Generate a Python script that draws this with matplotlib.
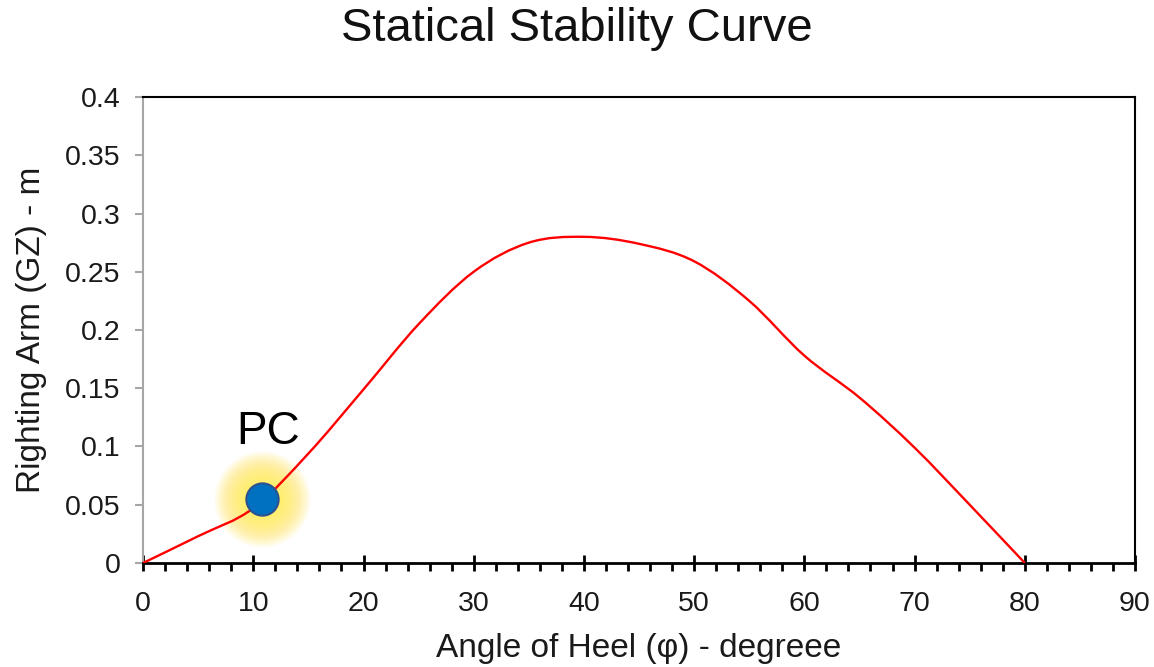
import numpy as np
import matplotlib
matplotlib.use("Agg")
import matplotlib.pyplot as plt
from matplotlib.path import Path
from matplotlib.patches import PathPatch
from matplotlib.ticker import MultipleLocator

plt.rcParams['font.family'] = ['Liberation Sans', 'DejaVu Sans']

heel = [0, 5, 10, 15, 20, 25, 30, 35, 40, 45, 50, 55, 60, 65, 70, 75, 80]
gz = [0, 0.023, 0.047, 0.094, 0.149, 0.205, 0.25, 0.275, 0.28, 0.274,
      0.259, 0.225, 0.178, 0.142, 0.099, 0.05, 0]
pc_x = 10.8
pc_y = 0.0553
pc_label = 'PC'

fig = plt.figure(figsize=(11.54, 6.67), dpi=100)
ax = fig.add_axes([0.124, 0.156, 0.8595, 0.6985])

# smoothed line (Excel style bezier through the points)
x = np.array(heel, float)
y = np.array(gz, float)
verts = [(x[0], y[0])]
codes = [Path.MOVETO]
n = len(x)
for i in range(n - 1):
    p0 = np.array([x[max(i - 1, 0)], y[max(i - 1, 0)]])
    p1 = np.array([x[i], y[i]])
    p2 = np.array([x[i + 1], y[i + 1]])
    p3 = np.array([x[min(i + 2, n - 1)], y[min(i + 2, n - 1)]])
    c1 = p1 + (p2 - p0) / 6.0
    c2 = p2 - (p3 - p1) / 6.0
    verts += [tuple(c1), tuple(c2), tuple(p2)]
    codes += [Path.CURVE4] * 3
ax.add_patch(PathPatch(Path(verts, codes), facecolor='none',
                       edgecolor='#FF0000', lw=1.7, zorder=3))

# soft yellow glow around the point
for r in np.linspace(48, 18, 40):
    ax.scatter([pc_x], [pc_y], s=r ** 2 * 2.1, color='#FFEE58', alpha=0.04,
               lw=0, zorder=2)
ax.scatter([pc_x], [pc_y], s=540, color='#0070C0', edgecolors='#2F528F',
           linewidths=1.5, zorder=5)
ax.text(pc_x + 0.5, 0.112, pc_label, fontsize=33, ha='center', va='center',
        color='black', zorder=6)

ax.set_xlim(0, 90)
ax.set_ylim(0, 0.4)
ax.xaxis.set_major_locator(MultipleLocator(10))
ax.xaxis.set_minor_locator(MultipleLocator(2))
ax.set_yticks(np.arange(0, 0.401, 0.05))
ax.set_yticklabels(['0', '0.05', '0.1', '0.15', '0.2', '0.25', '0.3', '0.35', '0.4'])

ax.spines['left'].set_color('#A6A6A6')
ax.spines['left'].set_linewidth(1.5)
ax.spines['bottom'].set_color('black')
ax.spines['bottom'].set_linewidth(2)
ax.spines['top'].set_linewidth(1.5)
ax.spines['right'].set_linewidth(1.5)

ax.tick_params(axis='y', which='major', direction='out', length=6, width=1.5,
               color='#A6A6A6', labelsize=20.5, labelcolor='#1a1a1a', pad=10)
ax.tick_params(axis='x', which='major', direction='inout', length=12, width=2,
               color='black', labelsize=20.5, labelcolor='#1a1a1a', pad=14)
ax.tick_params(axis='x', which='minor', direction='out', length=6, width=2,
               color='black')

ax.set_xlabel('Angle of Heel (φ) - degreee', fontsize=24, color='#1a1a1a', labelpad=12)
ax.set_ylabel('Righting Arm (GZ) - m', fontsize=24, color='#1a1a1a', labelpad=13)
fig.suptitle('Statical Stability Curve', fontsize=34, y=0.99, color='#111111')

fig.savefig('out.png', dpi=100)
